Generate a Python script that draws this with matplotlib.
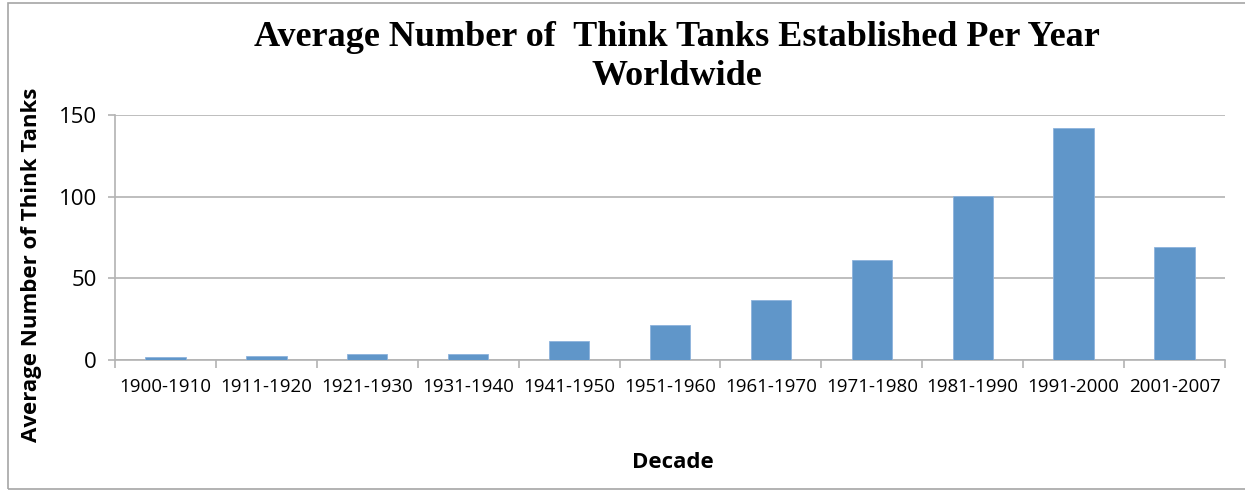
import matplotlib
matplotlib.use("Agg")
import matplotlib.pyplot as plt
from matplotlib.patches import Rectangle
import numpy as np

decades = ["1900-1910", "1911-1920", "1921-1930", "1931-1940", "1941-1950",
           "1951-1960", "1961-1970", "1971-1980", "1981-1990", "1991-2000",
           "2001-2007"]
avg_tanks = [1.6, 2.4, 3.9, 3.9, 11.6, 21.4, 36.7, 61.2, 100.3, 142.2, 69.3]
y_ticks = [0, 50, 100, 150]

BAR_COLOR = "#6096c9"
GRID_COLOR = "#b3b3b3"

fig = plt.figure(figsize=(12.45, 4.91), dpi=100)
ax = fig.add_axes([115 / 1245, 1 - 360 / 491, 1110 / 1245, 245 / 491])

x = np.arange(len(decades))
ax.bar(x, avg_tanks, width=0.4, color=BAR_COLOR, edgecolor="#8db3dc",
       linewidth=0.6, zorder=3)

ax.set_xlim(-0.5, len(decades) - 0.5)
ax.set_ylim(0, 150)
ax.set_yticks(y_ticks)
ax.set_yticklabels([str(v) for v in y_ticks], fontsize=16, family="Open Sans")
ax.grid(axis="y", color=GRID_COLOR, linewidth=1.2, zorder=0)

# category labels at centres, tick marks between categories
ax.set_xticks(x)
ax.set_xticklabels(decades, fontsize=13.5, family="Open Sans")
ax.tick_params(axis="x", length=0, pad=13)
ax.set_xticks(np.arange(-0.5, len(decades)), minor=True)
ax.tick_params(axis="x", which="minor", length=6, color=GRID_COLOR, width=1.2)
ax.tick_params(axis="y", length=5, color=GRID_COLOR, width=1.2, pad=8)

for side in ("top", "right"):
    ax.spines[side].set_visible(False)
for side in ("left", "bottom"):
    ax.spines[side].set_color(GRID_COLOR)
    ax.spines[side].set_linewidth(1.2)

fig.text(677 / 1245, 1 - 38 / 491,
         "Average Number of  Think Tanks Established Per Year",
         ha="center", va="center", fontsize=26, fontweight="bold",
         family="Liberation Serif")
fig.text(677 / 1245, 1 - 77 / 491, "Worldwide", ha="center", va="center",
         fontsize=26, fontweight="bold", family="Liberation Serif")
fig.text(32 / 1245, 1 - 265 / 491, "Average Number of Think Tanks",
         rotation=90, ha="center", va="center", fontsize=16,
         fontweight="bold", family="Open Sans")
fig.text(673 / 1245, 1 - 463 / 491, "Decade", ha="center", va="center",
         fontsize=16, fontweight="bold", family="Open Sans")

# outer chart border
fig.patches.append(Rectangle((8 / 1245, 0.005), 1.2, 1 - 3 / 491 - 0.005,
                             transform=fig.transFigure, fill=False,
                             edgecolor="#a6a6a6", linewidth=1.2))

fig.savefig("out.png", dpi=100)
